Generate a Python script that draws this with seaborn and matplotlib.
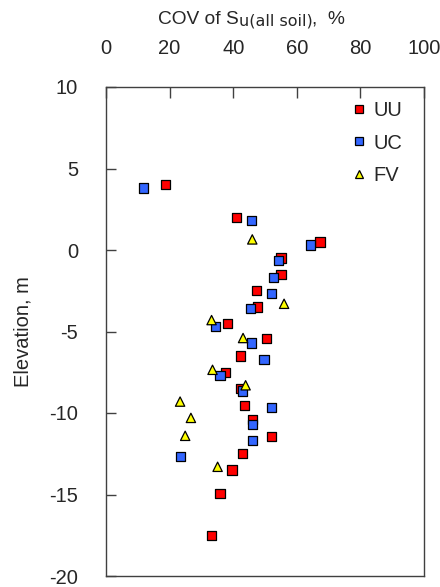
import pandas as pd
import matplotlib.pyplot as plt
import seaborn as sns

# COV (%) and elevation (m), per test type
uu_cov = [18.7, 41.0, 67.3, 55.0, 55.0, 47.4, 47.7, 38.3, 50.4, 42.2, 37.5, 42.2, 43.6, 46.0, 52.1, 43.0, 39.6, 35.8, 33.1]
uu_elev = [4.0, 2.0, 0.5, -0.5, -1.5, -2.5, -3.5, -4.5, -5.45, -6.5, -7.5, -8.5, -9.55, -10.4, -11.45, -12.5, -13.5, -14.95, -17.5]
uc_cov = [11.8, 45.7, 64.3, 54.2, 52.7, 52.1, 45.4, 34.5, 45.7, 49.7, 35.8, 42.9, 52.1, 46.0, 46.0, 23.4]
uc_elev = [3.8, 1.8, 0.3, -0.65, -1.7, -2.65, -3.6, -4.7, -5.7, -6.7, -7.7, -8.65, -9.65, -10.7, -11.7, -12.65]
fv_cov = [46.0, 56.0, 33.2, 43.1, 33.5, 43.9, 23.3, 26.7, 24.9, 35.1]
fv_elev = [0.65, -3.3, -4.3, -5.4, -7.35, -8.3, -9.3, -10.3, -11.4, -13.3]

x_ticks = [0, 20, 40, 60, 80, 100]
y_ticks = [-20, -15, -10, -5, 0, 5, 10]

df = pd.concat([
    pd.DataFrame({"cov": uu_cov, "elev": uu_elev, "test": "UU"}),
    pd.DataFrame({"cov": uc_cov, "elev": uc_elev, "test": "UC"}),
    pd.DataFrame({"cov": fv_cov, "elev": fv_elev, "test": "FV"}),
])

sns.set_style("ticks")
plt.rcParams["font.family"] = ["Liberation Sans", "DejaVu Sans"]
plt.rcParams["axes.unicode_minus"] = False
fs = 14.5

fig, ax = plt.subplots(figsize=(4.4, 5.87), dpi=100)
fig.subplots_adjust(left=106 / 440, right=424 / 440, top=1 - 87 / 587, bottom=1 - 576 / 587)

sns.scatterplot(data=df, x="cov", y="elev", hue="test", style="test",
                palette={"UU": "#ff0000", "UC": "#3366ff", "FV": "#ffff00"},
                markers={"UU": "s", "UC": "s", "FV": "^"},
                s=45, edgecolor="black", linewidth=0.9, ax=ax, zorder=3)

ax.set_xlim(0, 100)
ax.set_ylim(-20, 10)
ax.set_xticks(x_ticks)
ax.set_yticks(y_ticks)
ax.set_xlabel("")
ax.set_ylabel("Elevation, m", fontsize=fs, labelpad=12)

ax.tick_params(axis="x", which="major", top=True, bottom=False, labeltop=True, labelbottom=False,
               direction="in", length=8, width=1, pad=21, labelsize=fs, color="#404040")
ax.tick_params(axis="y", which="major", left=True, right=False, direction="in", length=7, width=1,
               pad=20, labelsize=fs, color="#404040")
for sp in ax.spines.values():
    sp.set_visible(True)
    sp.set_color("#404040")
    sp.set_linewidth(1)

# axis title on top with the smaller "u(all soil)" part
t1 = fig.text(158 / 440, 1 - 28 / 587, "COV of S", fontsize=13.8, ha="left", va="bottom")
t2 = ax.annotate("u(all soil)", xy=(1, 0), xycoords=t1, fontsize=11.5,
                 family="DejaVu Sans", ha="left", va="bottom")
ax.annotate(",  %", xy=(1, 0), xycoords=t2, fontsize=13.8, ha="left", va="bottom")

ax.legend(loc="upper right", frameon=False, fontsize=fs, markerscale=0.8,
          handlelength=1.0, handletextpad=0.25, labelspacing=0.66,
          bbox_to_anchor=(0.99, 1.008))

plt.savefig("out.png", dpi=100)
